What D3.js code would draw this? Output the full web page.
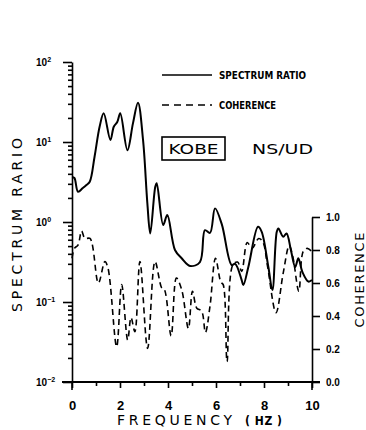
<!DOCTYPE html>
<html>
<head>
<meta charset="utf-8">
<script src="https://cdn.jsdelivr.net/npm/d3@7"></script>
<style>
body { margin: 0; background: #fff; }
svg text { fill: #000; }
</style>
</head>
<body>
<svg id="chart" width="366" height="430"></svg>
<script>
// spectrum ratio (solid line, log axis on the left)
var freqS = [0, 0.1, 0.25, 0.45, 0.6, 0.74, 0.94, 1.15, 1.32, 1.6, 1.74, 1.89, 2.01, 2.31, 2.54, 2.75, 2.96, 3.14, 3.26, 3.47, 3.53,
    3.8, 3.97, 4.29, 4.57, 4.92, 5.33, 5.54, 5.75, 5.96, 6.24, 6.65, 6.8, 7.07, 7.14, 7.35, 7.75, 7.9, 8.18, 8.35, 8.53, 8.6,
    8.8, 8.94, 9.12, 9.3, 9.43, 9.6, 9.85, 10];
var spectrum = [3.65, 3.55, 2.39, 2.66, 2.9, 3.19, 6.55, 15.5, 22.8, 10.6, 15.5, 17.9, 22.8, 7.9, 17.1, 31, 10.6, 1.71, 0.72, 2.76, 3.05,
    0.92, 1.22, 0.447, 0.352, 0.282, 0.316, 0.79, 0.73, 1.48, 0.94, 0.29, 0.30, 0.188, 0.163, 0.276, 0.87, 0.76, 0.276, 0.141, 0.75, 0.83,
    0.655, 0.72, 0.447, 0.274, 0.352, 0.237, 0.18, 0.188];

// coherence (dashed line, linear axis on the right)
var freqC = [0, 0.1, 0.25, 0.4, 0.54, 0.75, 1.1, 1.37, 1.5, 1.86, 2.07, 2.32, 2.46, 2.62, 2.83, 3.15, 3.46, 3.74, 3.85, 4.13, 4.35,
    4.57, 4.85, 5.02, 5.2, 5.4, 5.56, 5.75, 5.98, 6.2, 6.3, 6.46, 6.7, 6.9, 7.07, 7.3, 7.5, 7.78, 7.95, 8.15, 8.5, 8.8, 9.05,
    9.2, 9.45, 9.63, 9.8, 10];
var coherence = [0.75, 0.81, 0.83, 0.915, 0.87, 0.87, 0.60, 0.73, 0.69, 0.214, 0.59, 0.255, 0.39, 0.305, 0.73, 0.204, 0.73, 0.57, 0.56, 0.28, 0.63,
    0.56, 0.325, 0.55, 0.447, 0.43, 0.30, 0.46, 0.75, 0.606, 0.59, 0.123, 0.71, 0.727, 0.67, 0.845, 0.81, 0.87, 0.85, 0.70, 0.42, 0.66, 0.825,
    0.76, 0.55, 0.79, 0.81, 0.79];

var xTicks = [0, 2, 4, 6, 8, 10];
var xMinor = [1, 3, 5, 7, 9];
var logMajor = [0.01, 0.1, 1, 10, 100];
var logExp = ["-2", "-1", "0", "1", "2"];
var cohTicks = [0, 0.2, 0.4, 0.6, 0.8, 1.0];

var svg = d3.select("#chart");
var bold = "'Liberation Sans', Arial, sans-serif";
var narrow = "'Liberation Sans Narrow', 'DejaVu Sans Condensed', sans-serif";

var x = d3.scaleLinear().domain([0, 10]).range([72, 312]);
var yS = d3.scaleLog().domain([0.01, 100]).range([382, 62]);
var yC = d3.scaleLinear().domain([0, 1]).range([382, 217]);

// minor log ticks
var logMinor = [];
logMajor.slice(0, 4).forEach(function(d) {
    for (var k = 2; k <= 9; k++) logMinor.push(d * k);
});

// left axis
var gl = svg.append("g").attr("transform", "translate(72,0)");
gl.call(d3.axisLeft(yS).tickValues(logMajor).tickSize(9).tickSizeOuter(0).tickFormat(""));
gl.append("g").call(d3.axisLeft(yS).tickValues(logMinor).tickSize(4).tickSizeOuter(0).tickFormat(""))
  .select(".domain").remove();
gl.selectAll("path, line").attr("stroke", "#000").attr("stroke-width", 1.6);

logMajor.forEach(function(d, i) {
    var t = svg.append("text")
        .attr("x", 36).attr("y", yS(d) + 4)
        .attr("font-family", bold).attr("font-weight", "bold").attr("font-size", 10);
    t.append("tspan").text("10");
    t.append("tspan").attr("dy", -4).attr("font-size", 7).text(logExp[i].replace("-", "\u2212"));
});

// bottom axis
var gb = svg.append("g").attr("transform", "translate(0,382)");
gb.call(d3.axisBottom(x).tickValues(xTicks).tickSize(6).tickSizeOuter(0).tickPadding(13)
    .tickFormat(function(d) { return d; }));
gb.append("g").call(d3.axisBottom(x).tickValues(xMinor).tickSize(4).tickFormat(""))
  .select(".domain").remove();
gb.select(".domain").remove();
gb.selectAll("line").attr("stroke", "#000").attr("stroke-width", 1.6);
gb.selectAll("text").attr("font-family", bold).attr("font-weight", "bold").attr("font-size", 13).attr("fill", "#000");
svg.append("line").attr("x1", 62).attr("x2", 320).attr("y1", 382).attr("y2", 382)
    .attr("stroke", "#000").attr("stroke-width", 1.8);
svg.append("line").attr("x1", 72).attr("x2", 72).attr("y1", 382).attr("y2", 390)
    .attr("stroke", "#000").attr("stroke-width", 1.6);

// right axis
var gr = svg.append("g").attr("transform", "translate(312,0)");
gr.call(d3.axisRight(yC).tickValues(cohTicks).tickSize(8).tickSizeOuter(0).tickPadding(6)
    .tickFormat(d3.format(".1f")));
gr.selectAll("path, line").attr("stroke", "#000").attr("stroke-width", 1.6);
gr.selectAll("text").attr("font-family", bold).attr("font-weight", "bold").attr("font-size", 10).attr("fill", "#000");
svg.append("line").attr("x1", 312).attr("x2", 312).attr("y1", 382).attr("y2", 390)
    .attr("stroke", "#000").attr("stroke-width", 1.6);

// curves
var lineS = d3.line()
    .x(function(d, i) { return x(freqS[i]); })
    .y(function(d) { return yS(d); })
    .curve(d3.curveCatmullRom.alpha(0.5));
svg.append("path").datum(spectrum).attr("d", lineS)
    .attr("fill", "none").attr("stroke", "#000").attr("stroke-width", 2);

var lineC = d3.line()
    .x(function(d, i) { return x(freqC[i]); })
    .y(function(d) { return yC(d); })
    .curve(d3.curveCatmullRom.alpha(0.5));
svg.append("path").datum(coherence).attr("d", lineC)
    .attr("fill", "none").attr("stroke", "#000").attr("stroke-width", 1.6)
    .attr("stroke-dasharray", "6,4");

// legend
svg.append("line").attr("x1", 162).attr("x2", 212).attr("y1", 75).attr("y2", 75)
    .attr("stroke", "#000").attr("stroke-width", 1.6);
svg.append("text").attr("x", 219).attr("y", 79)
    .attr("font-family", narrow).attr("font-weight", "bold").attr("font-size", 10)
    .attr("textLength", 87).attr("lengthAdjust", "spacingAndGlyphs").text("SPECTRUM RATIO");
svg.append("line").attr("x1", 162).attr("x2", 212).attr("y1", 105).attr("y2", 105)
    .attr("stroke", "#000").attr("stroke-width", 1.4).attr("stroke-dasharray", "7,5");
svg.append("text").attr("x", 219).attr("y", 109)
    .attr("font-family", narrow).attr("font-weight", "bold").attr("font-size", 10)
    .attr("textLength", 57).attr("lengthAdjust", "spacingAndGlyphs").text("COHERENCE");

svg.append("rect").attr("x", 162).attr("y", 137).attr("width", 63).attr("height", 23)
    .attr("fill", "none").attr("stroke", "#000").attr("stroke-width", 1.6);
svg.append("text").attr("x", 193.5).attr("y", 154).attr("text-anchor", "middle")
    .attr("font-family", "'DejaVu Sans', sans-serif").attr("font-size", 14)
    .attr("textLength", 50).attr("lengthAdjust", "spacingAndGlyphs").text("KOBE");
svg.append("text").attr("x", 252).attr("y", 154)
    .attr("font-family", "'DejaVu Sans', sans-serif").attr("font-size", 14)
    .attr("textLength", 61).attr("lengthAdjust", "spacingAndGlyphs").text("NS/UD");

// axis titles
svg.append("text").attr("transform", "translate(22,225) rotate(-90)").attr("text-anchor", "middle")
    .attr("font-family", "'DejaVu Sans', sans-serif").attr("font-size", 14)
    .attr("textLength", 174).attr("lengthAdjust", "spacing").text("SPECTRUM RARIO");
svg.append("text").attr("transform", "translate(364,280) rotate(-90)").attr("text-anchor", "middle")
    .attr("font-family", "'DejaVu Sans', sans-serif").attr("font-size", 13)
    .attr("textLength", 95).attr("lengthAdjust", "spacing").text("COHERENCE");
svg.append("text").attr("x", 117).attr("y", 425)
    .attr("font-family", "'DejaVu Sans', sans-serif").attr("font-size", 14)
    .attr("textLength", 115).attr("lengthAdjust", "spacing").text("FREQUENCY");
svg.append("text").attr("x", 245).attr("y", 425)
    .attr("font-family", narrow).attr("font-weight", "bold").attr("font-size", 12)
    .attr("textLength", 37).attr("lengthAdjust", "spacing").text("( HZ )");
</script>
</body>
</html>
